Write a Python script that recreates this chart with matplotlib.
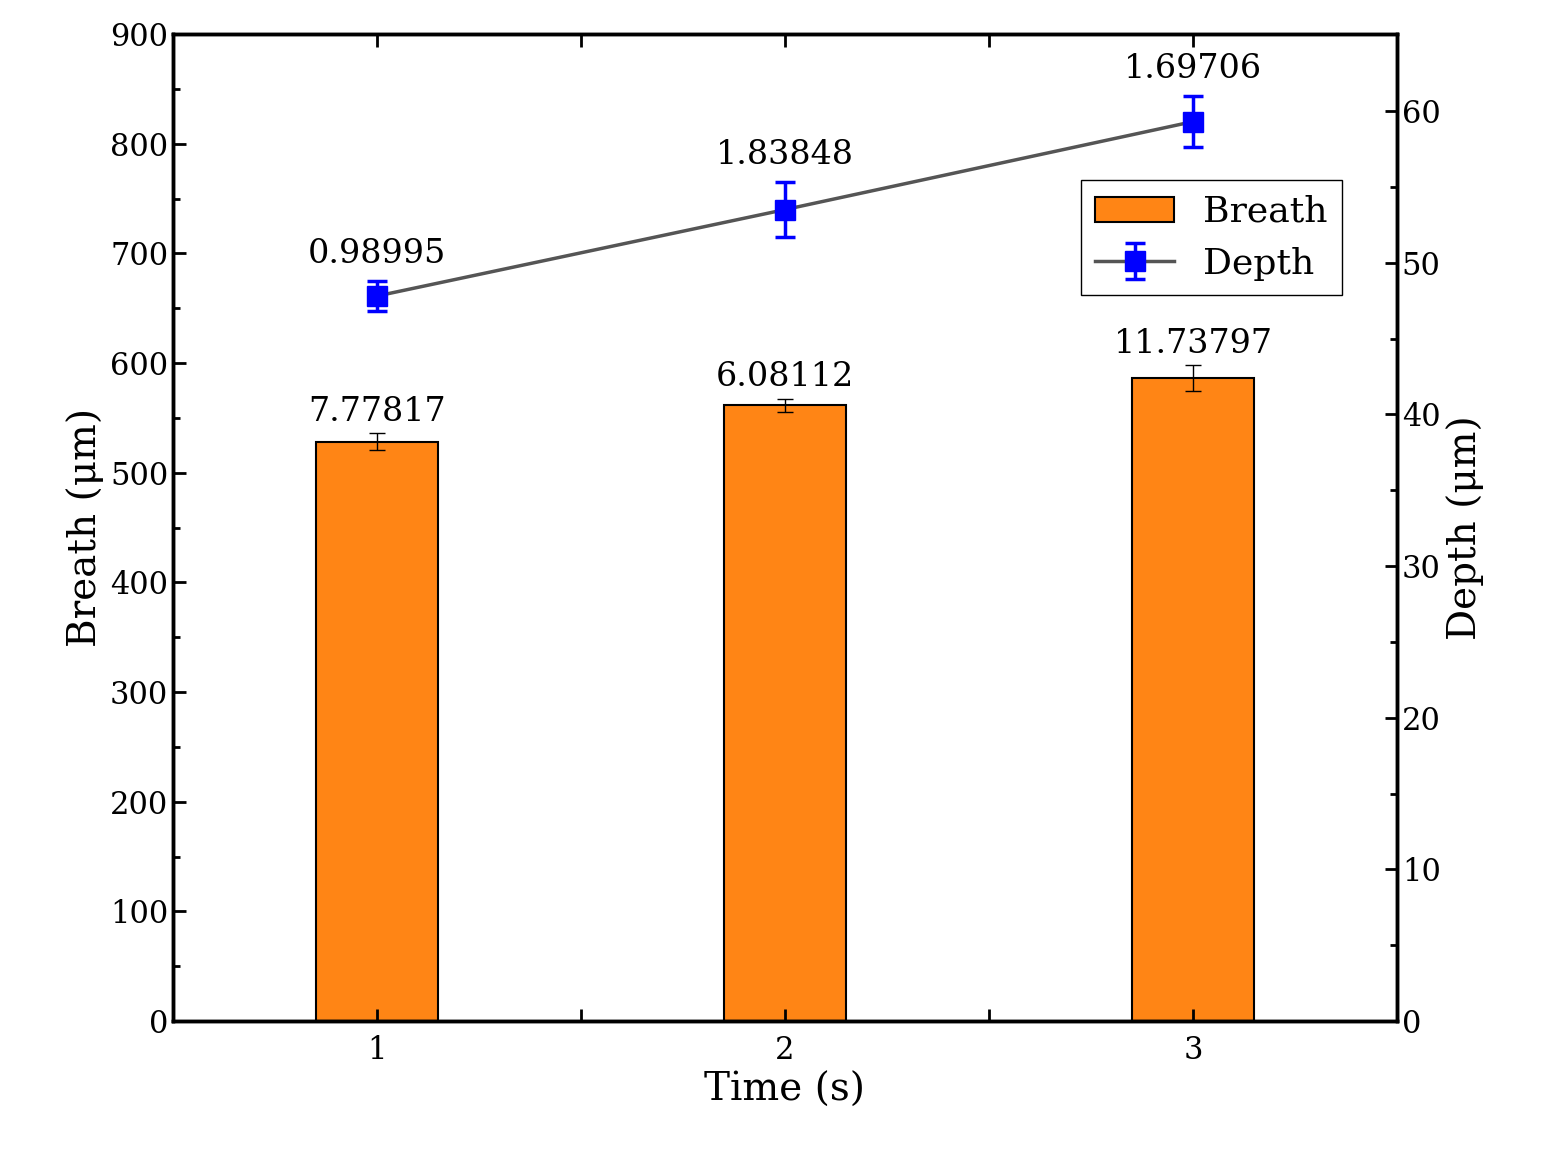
import matplotlib
matplotlib.use("Agg")
import matplotlib.pyplot as plt

times = [1, 2, 3]
breath = [528, 561.5, 586]
breath_err = [7.77817, 6.08112, 11.73797]
depth = [47.8, 53.5, 59.3]
depth_err = [0.98995, 1.83848, 1.69706]
breath_lbl = ["7.77817", "6.08112", "11.73797"]
depth_lbl = ["0.98995", "1.83848", "1.69706"]

plt.rcParams["font.family"] = "DejaVu Serif"
fig = plt.figure(figsize=(15.42, 11.6), dpi=100)
ax = fig.add_axes([173/1542, 1-1021/1160, (1397-173)/1542, (1021-34)/1160])
ax2 = ax.twinx()

ax.bar(times, breath, width=0.3, color="#FF8515", edgecolor="black", linewidth=1.5,
       yerr=breath_err, capsize=6, error_kw=dict(elinewidth=1, ecolor="black"), label="Breath")
for x, y, e, t in zip(times, breath, breath_err, breath_lbl):
    ax.text(x, y + e + 5, t, ha="center", va="bottom", fontsize=24)

ax2.errorbar(times, depth, yerr=depth_err, color="#555555", lw=2.5, marker="s", ms=14,
             mfc="blue", mec="blue", ecolor="blue", elinewidth=2.5, capsize=7, capthick=2.5, label="Depth")
for x, y, e, t in zip(times, depth, depth_err, depth_lbl):
    ax2.text(x, y + e + 0.7, t, ha="center", va="bottom", fontsize=24)

ax.set_xlim(0.5, 3.5)
ax.set_ylim(0, 900)
ax2.set_ylim(0, 900/987*910/60*60*987/910*65/60)
ax2.set_ylim(0, 60*987/910)
ax.set_xticks([1, 1.5, 2, 2.5, 3])
ax.set_xticklabels(["1", "", "2", "", "3"])
ax.set_yticks(range(0, 901, 100))
ax.set_yticks(range(50, 900, 100), minor=True)
ax2.set_yticks(range(0, 61, 10))
ax2.set_yticks(range(5, 65, 10), minor=True)
for a in (ax, ax2):
    a.tick_params(which="major", direction="in", length=9, width=2, labelsize=22)
    a.tick_params(which="minor", direction="in", length=5, width=2)
    for s in a.spines.values():
        s.set_linewidth(2.5)
ax.tick_params(axis="x", top=True, pad=10)
ax.set_xlabel("Time (s)", fontsize=28)
ax.set_ylabel("Breath (μm)", fontsize=28)
ax2.set_ylabel("Depth (μm)", fontsize=28)

h1, l1 = ax.get_legend_handles_labels()
h2, l2 = ax2.get_legend_handles_labels()
ax2.legend(h1 + h2, l1 + l2, loc="upper right", bbox_to_anchor=(0.97, 0.87), fontsize=26,
           fancybox=False, edgecolor="black", framealpha=1, handlelength=2.2)
fig.savefig("out.png", dpi=100)
